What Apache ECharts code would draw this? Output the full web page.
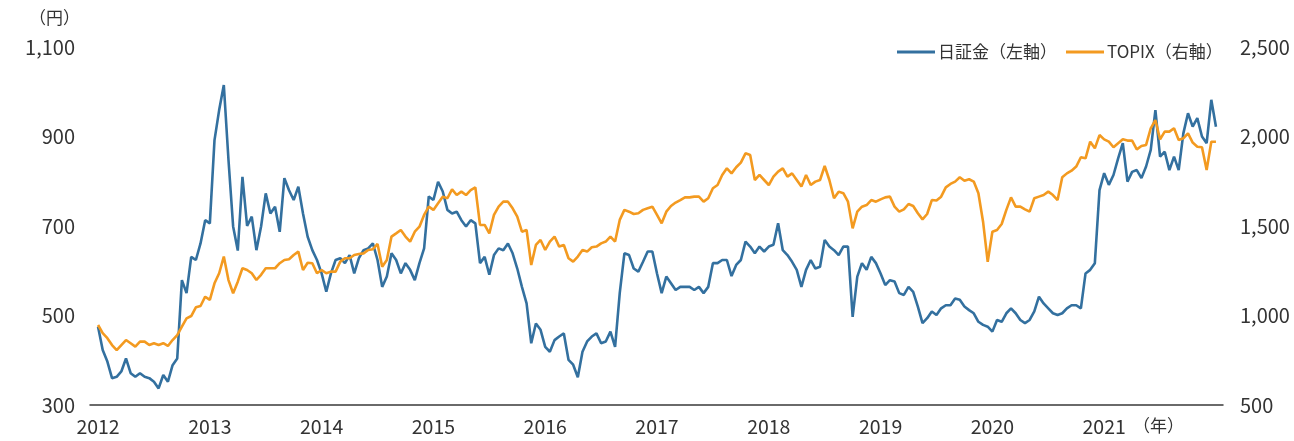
<!DOCTYPE html>
<html>
<head>
<meta charset="utf-8">
<script src="https://cdn.jsdelivr.net/npm/echarts@6/dist/echarts.min.js"></script>
<style>
  html, body { margin: 0; padding: 0; background: #fff; }
  #chart { width: 1294px; height: 441px; }
</style>
</head>
<body>
<div id="chart"></div>
<script>
// 期間：2012年初〜2021年末、半月ごとの読み取り値
const startYear = 2012;
const perYear = 24;
const yearLabels = [2012, 2013, 2014, 2015, 2016, 2017, 2018, 2019, 2020, 2021];

// 日証金（左軸、円）
const nisshokin = [
  475, 423, 397, 360, 363, 375, 404, 371, 363, 371,
  363, 360, 352, 337, 367, 352, 389, 404, 579, 550,
  631, 624, 661, 713, 706, 892, 959, 1015, 848, 699,
  645, 810, 700, 721, 646, 699, 773, 728, 743, 687,
  807, 780, 758, 788, 728, 676, 646, 624, 594, 553,
  594, 624, 628, 617, 635, 594, 628, 646, 650, 661,
  624, 564, 587, 639, 624, 594, 617, 602, 579, 617,
  650, 766, 758, 799, 777, 736, 728, 732, 713, 699,
  713, 706, 617, 631, 591, 635, 650, 646, 661, 639,
  605, 564, 527, 438, 482, 468, 430, 419, 445, 453,
  460, 401, 390, 362, 419, 442, 453, 460, 438, 442,
  464, 430, 550, 639, 635, 605, 598, 620, 643, 643,
  594, 550, 587, 572, 557, 564, 564, 564, 557, 564,
  550, 564, 617, 617, 624, 624, 588, 613, 624, 665,
  654, 639, 654, 643, 654, 658, 706, 646, 635, 620,
  602, 564, 602, 624, 605, 609, 669, 654, 646, 635,
  654, 654, 497, 587, 617, 602, 631, 617, 594, 568,
  579, 576, 550, 546, 564, 553, 520, 483, 494, 509,
  501, 516, 523, 523, 538, 535, 520, 512, 505, 486,
  479, 475, 464, 490, 486, 505, 516, 505, 490, 483,
  490, 509, 542, 527, 516, 505, 501, 505, 516, 523,
  523, 516, 594, 602, 617, 780, 818, 792, 814, 851,
  885, 799, 821, 825, 807, 833, 870, 959, 855, 866,
  825, 855, 825, 907, 952, 922, 941, 900, 885, 982,
  922
];

// TOPIX（右軸）
const topix = [
  947, 901, 873, 835, 807, 835, 863, 845, 826, 854,
  854, 835, 845, 835, 845, 830, 863, 891, 938, 984,
  997, 1046, 1053, 1105, 1087, 1180, 1236, 1329, 1198, 1124,
  1189, 1264, 1254, 1236, 1199, 1227, 1264, 1264, 1264, 1292,
  1310, 1314, 1338, 1357, 1254, 1295, 1292, 1236, 1254, 1236,
  1245, 1245, 1301, 1320, 1320, 1338, 1344, 1347, 1366, 1370,
  1400, 1273, 1310, 1441, 1459, 1478, 1441, 1413, 1468, 1496,
  1562, 1608, 1590, 1627, 1664, 1655, 1705, 1673, 1692, 1673,
  1701, 1716, 1506, 1506, 1459, 1562, 1608, 1636, 1636, 1599,
  1552, 1468, 1478, 1282, 1394, 1422, 1366, 1413, 1441, 1385,
  1394, 1320, 1301, 1329, 1366, 1357, 1381, 1385, 1403, 1413,
  1441, 1413, 1534, 1590, 1580, 1567, 1571, 1590, 1599, 1608,
  1562, 1515, 1580, 1612, 1631, 1645, 1660, 1660, 1664, 1664,
  1636, 1655, 1711, 1729, 1785, 1822, 1794, 1828, 1854, 1906,
  1897, 1757, 1785, 1757, 1729, 1776, 1804, 1822, 1776, 1794,
  1757, 1720, 1785, 1729, 1748, 1757, 1835, 1757, 1655, 1692,
  1683, 1636, 1487, 1580, 1608, 1617, 1645, 1636, 1649, 1660,
  1664, 1608, 1580, 1593, 1623, 1612, 1571, 1537, 1567, 1645,
  1642, 1664, 1716, 1735, 1748, 1772, 1753, 1761, 1748, 1683,
  1524, 1300, 1468, 1478, 1511, 1590, 1660, 1608, 1608, 1593,
  1580, 1655, 1664, 1673, 1692, 1673, 1645, 1772, 1794, 1809,
  1832, 1884, 1878, 1971, 1934, 2008, 1984, 1971, 1940, 1962,
  1984, 1977, 1977, 1928, 1947, 1953, 2046, 2092, 1984, 2027,
  2027, 2046, 1981, 1990, 2018, 1966, 1943, 1940, 1813, 1971,
  1971
];

const toPairs = arr => arr.map((v, i) => [startYear + i / perYear, v]);

const font = '"Noto Sans CJK JP", "Noto Sans", sans-serif';
const textColor = '#333333';
const fmt = v => Number(v).toLocaleString('en-US');

const chart = echarts.init(document.getElementById('chart'), null, { renderer: 'canvas' });

const option = {
  animation: false,
  backgroundColor: '#ffffff',
  textStyle: { fontFamily: font, color: textColor },
  grid: { left: 90, right: 71, top: 47, bottom: 36, containLabel: false },
  legend: {
    left: 892,
    top: 37,
    itemWidth: 38,
    itemHeight: 3,
    itemGap: 9,
    icon: 'rect',
    textStyle: { fontFamily: font, fontSize: 17, color: textColor, lineHeight: 20, padding: [0, 0, 0, -2] },
    data: ['日証金（左軸）', 'TOPIX（右軸）']
  },
  xAxis: {
    type: 'value',
    min: 2011.928,
    max: 2022.063,
    splitLine: { show: false },
    axisTick: { show: false },
    axisLine: { show: true, lineStyle: { color: '#3a3a3a', width: 1.5 } },
    axisLabel: {
      customValues: yearLabels,
      formatter: v => String(Math.round(v)),
      fontSize: 19.5,
      color: textColor,
      margin: 12,
      fontFamily: font
    }
  },
  yAxis: [
    {
      type: 'value',
      min: 300,
      max: 1100,
      interval: 200,
      splitLine: { show: false },
      axisLine: { show: false },
      axisTick: { show: false },
      axisLabel: { formatter: fmt, fontSize: 20, color: textColor, margin: 15, fontFamily: font }
    },
    {
      type: 'value',
      min: 500,
      max: 2500,
      interval: 500,
      position: 'right',
      splitLine: { show: false },
      axisLine: { show: false },
      axisTick: { show: false },
      axisLabel: { formatter: fmt, fontSize: 20, color: textColor, margin: 17, fontFamily: font }
    }
  ],
  graphic: [
    {
      type: 'text',
      right: 1294 - 80,
      top: 9,
      style: { text: '（円）', fontSize: 17, fill: textColor, fontFamily: font }
    },
    {
      type: 'text',
      left: 1133,
      top: 417,
      style: { text: '（年）', fontSize: 17, fill: textColor, fontFamily: font }
    }
  ],
  series: [
    {
      name: '日証金（左軸）',
      type: 'line',
      yAxisIndex: 0,
      data: toPairs(nisshokin),
      showSymbol: false,
      color: '#33709f',
      lineStyle: { width: 2.6, color: '#33709f' }
    },
    {
      name: 'TOPIX（右軸）',
      type: 'line',
      yAxisIndex: 1,
      data: toPairs(topix),
      showSymbol: false,
      color: '#f39a20',
      lineStyle: { width: 2.6, color: '#f39a20' }
    }
  ]
};

chart.setOption(option);
</script>
</body>
</html>
